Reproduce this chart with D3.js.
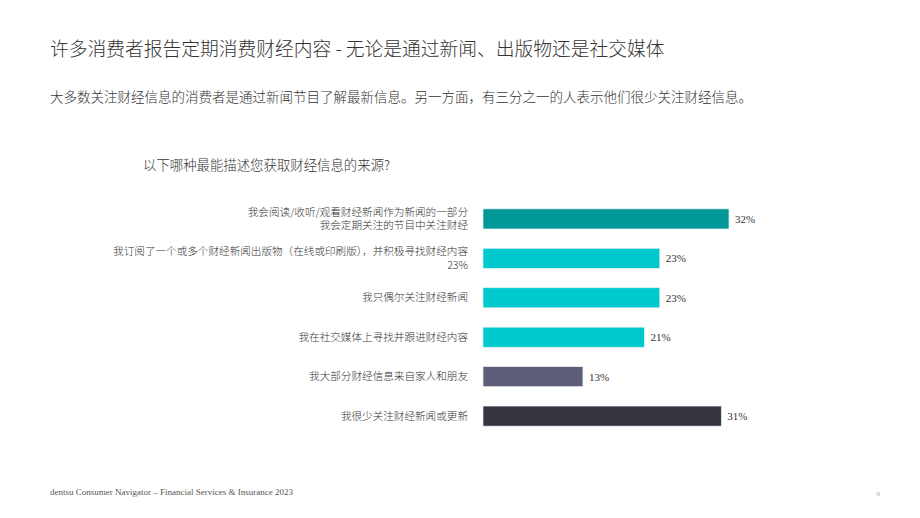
<!DOCTYPE html>
<html>
<head>
<meta charset="utf-8">
<script src="https://cdn.jsdelivr.net/npm/d3@7"></script>
<style>
  body { margin: 0; background: #fff; }
  text { font-family: "Noto Sans CJK SC", "Noto Sans", sans-serif; font-weight: 300; }
</style>
</head>
<body>
<script>
// categories (label lines) and values
var labels = [
  ["我会阅读/收听/观看财经新闻作为新闻的一部分", "我会定期关注的节目中关注财经"],
  ["我订阅了一个或多个财经新闻出版物（在线或印刷版），并积极寻找财经内容", "23%"],
  ["我只偶尔关注财经新闻"],
  ["我在社交媒体上寻找并跟进财经内容"],
  ["我大部分财经信息来自家人和朋友"],
  ["我很少关注财经新闻或更新"]
];
var values = [32, 23, 23, 21, 13, 31];
var colors = ["#009797", "#00c9cd", "#00c9cd", "#00c9cd", "#5f5e7a", "#35343e"];

var W = 920, H = 518;
var svg = d3.select("body").append("svg")
  .attr("width", W)
  .attr("height", H);

// titles
svg.append("text")
  .attr("x", 50).attr("y", 56)
  .attr("font-size", 18.75)
  .attr("fill", "#333")
  .text("许多消费者报告定期消费财经内容 - 无论是通过新闻、出版物还是社交媒体");

svg.append("text")
  .attr("x", 50).attr("y", 102)
  .attr("font-size", 13.5)
  .attr("fill", "#333")
  .text("大多数关注财经信息的消费者是通过新闻节目了解最新信息。另一方面，有三分之一的人表示他们很少关注财经信息。");

svg.append("text")
  .attr("x", 143).attr("y", 170)
  .attr("font-size", 13.4)
  .attr("fill", "#333")
  .text("以下哪种最能描述您获取财经信息的来源?");

// scales
var x = d3.scaleLinear()
  .domain([0, 32])
  .range([483, 729]);

var y = d3.scaleBand()
  .domain(d3.range(values.length))
  .range([199, 436])
  .paddingInner(0.49)
  .paddingOuter(0.25);

var rows = svg.selectAll("g.row")
  .data(values)
  .enter()
  .append("g")
  .attr("class", "row");

rows.append("rect")
  .attr("x", x(0))
  .attr("y", (d, i) => y(i))
  .attr("width", d => x(d) - x(0))
  .attr("height", y.bandwidth())
  .attr("fill", (d, i) => colors[i])
  .attr("stroke", "#e6f2f2")
  .attr("stroke-width", 0.7);

rows.append("text")
  .attr("x", d => x(d) + 6)
  .attr("y", (d, i) => y(i) + y.bandwidth() / 2 + 4)
  .attr("font-size", 11)
  .attr("fill", "#333")
  .style("font-family", "'Liberation Serif', serif")
  .text(d => d + "%");

// category labels, right aligned
rows.each(function(d, i) {
  var lines = labels[i];
  var cy = y(i) + y.bandwidth() / 2;
  var lh = 13.5;
  var t = d3.select(this).append("text")
    .attr("text-anchor", "end")
    .attr("font-size", 10.6)
    .attr("fill", "#333");
  lines.forEach(function(s, k) {
    t.append("tspan")
      .attr("x", 468)
      .attr("y", cy + 3.5 + (k - (lines.length - 1) / 2) * lh)
      .text(s);
  });
});

// footer
svg.append("text")
  .attr("x", 50).attr("y", 495)
  .attr("font-size", 9)
  .attr("fill", "#555")
  .style("font-family", "'Liberation Serif', serif")
  .text("dentsu Consumer Navigator – Financial Services & Insurance 2023");

svg.append("text")
  .attr("x", 880).attr("y", 496)
  .attr("font-size", 7)
  .attr("fill", "#aaa")
  .attr("text-anchor", "end")
  .style("font-family", "'Liberation Serif', serif")
  .text("9");
</script>
</body>
</html>
